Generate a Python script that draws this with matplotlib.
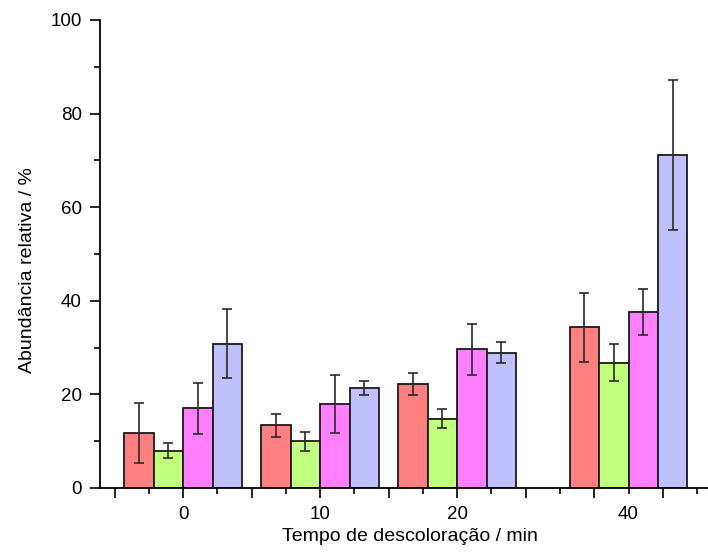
"""Relative abundance vs. decolouration time: grouped bars with error bars."""

import matplotlib

matplotlib.use("Agg")
import matplotlib.pyplot as plt  # noqa: E402
import numpy as np  # noqa: E402

plt.rcParams["font.family"] = ["Liberation Sans", "DejaVu Sans"]

# data
times = ["0", "10", "20", "40"]
series_a = [11.8, 13.4, 22.2, 34.3]
series_a_err = [6.4, 2.4, 2.3, 7.3]
series_b = [8.0, 10.0, 14.8, 26.8]
series_b_err = [1.6, 2.0, 2.0, 4.0]
series_c = [17.0, 17.9, 29.6, 37.6]
series_c_err = [5.5, 6.2, 5.5, 4.9]
series_d = [30.8, 21.4, 28.9, 71.2]
series_d_err = [7.4, 1.5, 2.2, 16.0]

# layout: where each group sits on the (numeric) x axis
_GROUP_X = np.array([0.0, 10.0, 20.0, 32.5])
_BAR_W = 2.15
_COLORS = ["#FF8080", "#C0FF80", "#FF80FF", "#C0C0FF"]

fig = plt.figure(figsize=(7.08, 5.56), dpi=100)
ax = fig.add_axes([100 / 708, 68 / 556, 608 / 708, 468 / 556])

values = [series_a, series_b, series_c, series_d]
errors = [series_a_err, series_b_err, series_c_err, series_d_err]
for i, (vals, errs) in enumerate(zip(values, errors)):
    x = _GROUP_X + (i - 1.5) * _BAR_W
    ax.bar(x, vals, width=_BAR_W, color=_COLORS[i], edgecolor="#1a1a1a", linewidth=1.3, zorder=2)
    ax.errorbar(x, vals, yerr=errs, fmt="none", ecolor="#2a2a2a", elinewidth=1.2,
                capsize=3.3, capthick=1.2, zorder=3)

ax.set_xlim(-6.06, 38.3)
ax.set_ylim(0, 100)
for side in ("top", "right"):
    ax.spines[side].set_visible(False)
for side in ("left", "bottom"):
    ax.spines[side].set_linewidth(1.3)

# major ticks every 5, minor in between; the group labels sit on the group positions
# (the last group falls on a minor tick, so it gets a minor tick label)
major = np.arange(-5, 40, 5)
minor = np.arange(-2.5, 40, 5)
pos_to_label = dict(zip(_GROUP_X.tolist(), times))
ax.set_xticks(major)
ax.set_xticklabels([pos_to_label.get(float(t), "") for t in major])
ax.set_xticks(minor, minor=True)
ax.set_xticklabels([pos_to_label.get(float(m), "") for m in minor], minor=True)

ax.set_yticks(np.arange(0, 101, 20))
ax.set_yticks(np.arange(10, 100, 20), minor=True)

ax.tick_params(axis="both", which="major", direction="out", length=7, width=1.2,
               labelsize=13.5, colors="black")
ax.tick_params(axis="both", which="minor", direction="out", length=4, width=1.2,
               labelsize=13.5)
ax.tick_params(axis="x", which="major", pad=6)
ax.tick_params(axis="x", which="minor", pad=9)
ax.tick_params(axis="y", which="major", pad=6)

ax.set_xlabel("Tempo de descoloração / min", fontsize=14)
ax.set_ylabel("Abundância relativa / %", fontsize=14)
ax.xaxis.set_label_coords(0.51, -0.085)
ax.yaxis.set_label_coords(-0.105, 0.465)

fig.savefig("out.png", dpi=100)
